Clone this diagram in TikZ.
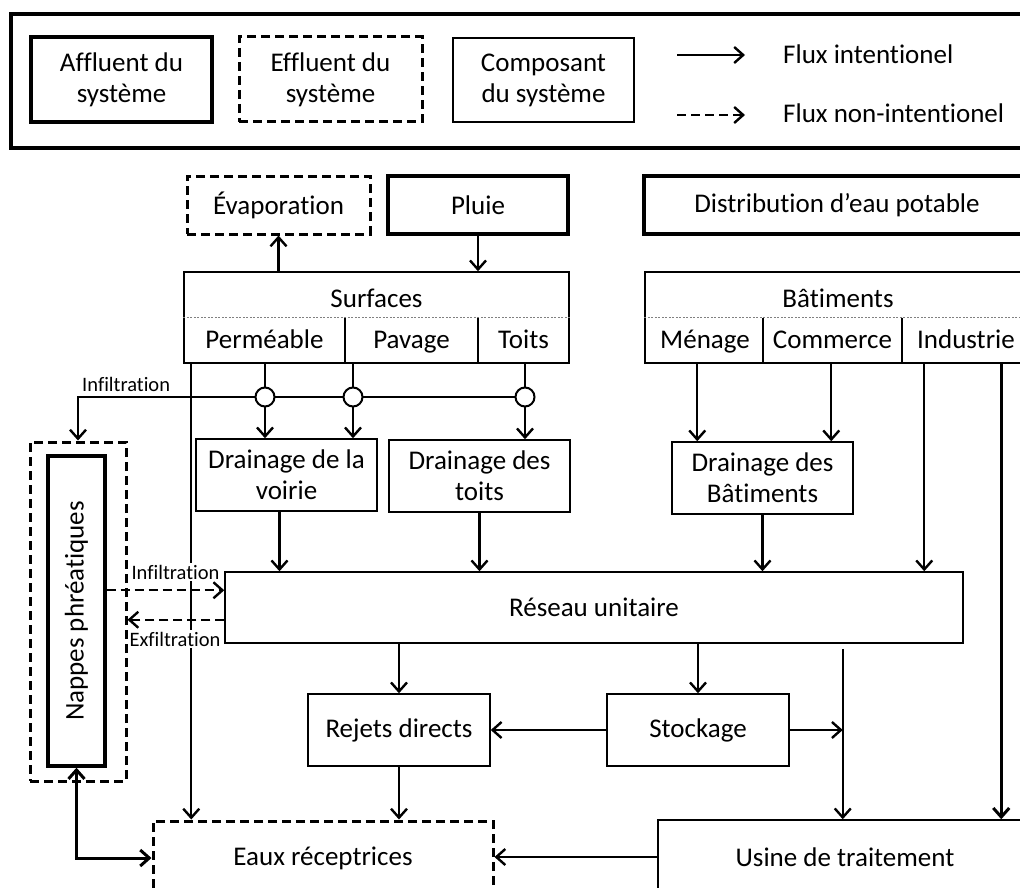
\documentclass[tikz,border=0pt]{standalone}
\usepackage{fontspec}
\setmainfont{Carlito}[Ligatures=NoCommon, RawFeature={-calt}]
\usetikzlibrary{arrows.meta,calc}

\newcommand{\grand}{\fontsize{27}{31}\selectfont}
\newcommand{\petit}{\fontsize{20.5}{22}\selectfont}

\begin{document}
\begin{tikzpicture}[x=1pt, y=-1pt,
    composant/.style={draw, line width=1.5pt, align=center, inner sep=0pt, font=\grand},
    affluent/.style={composant, line width=3.4pt},
    effluent/.style={composant, line width=3pt, dash pattern=on 9pt off 5pt},
    texte/.style={font=\grand, inner sep=0pt},
    flux/.style={line width=2.4pt, -{Straight Barb[length=9pt, width=16pt]}},
    fuite/.style={flux, dash pattern=on 9pt off 5pt},
    etiquette/.style={font=\petit, fill=white, inner sep=2pt},
    jonction/.style={circle, draw, fill=white, line width=2pt, minimum size=19pt, inner sep=0pt}]

        \clip (0,0) rectangle (1020,888);

        % Legende
        \draw[line width=3.5pt] (11,14) rectangle (1040,148);
        \node[affluent, minimum width=181pt, minimum height=85pt] (affl) at (121.5,79.5) {Affluent du\\système};
        \node[effluent, minimum width=183pt, minimum height=85pt] (effl) at (330.5,79.5) {Effluent du\\système};
        \node[composant, minimum width=181pt, minimum height=84pt] (comp) at (543.5,80) {Composant\\du système};
        \coordinate (fa) at (677,55);
        \coordinate (fb) at (677,115);
        \draw[flux] (fa) -- ++(68,0);
        \draw[fuite] (fb) -- ++(68,0);
        \node[texte, anchor=base west] (fint) at (783,64) {Flux intentionel};
        \node[texte, anchor=base west] (fnint) at (783,123) {Flux non-intentionel};

        % Entrees
        \node[effluent, minimum width=183pt, minimum height=58pt] (evap) at (278.5,205) {Évaporation};
        \node[affluent, minimum width=180pt, minimum height=58pt] (pluie) at (478,205) {Pluie};
        \node[affluent, minimum width=386pt, minimum height=58pt] (eaupot) at (837,205) {Distribution d’eau potable};

        % Surfaces
        \node[composant, minimum width=385pt, minimum height=91pt] (surf) at (376.5,317.5) {};
        \draw[line width=0.8pt, gray, dash pattern=on 2pt off 1.5pt] (surf.west) -- (surf.east);
        \draw[line width=1.2pt] (345,317.5) -- (345,363);
        \draw[line width=1.2pt] (478,317.5) -- (478,363);
        \node[texte, anchor=base] (surft) at (376.5,307) {Surfaces};
        \node[texte, anchor=base] (perm) at (264.5,348) {Perméable};
        \node[texte, anchor=base] (pav) at (411.5,348) {Pavage};
        \node[texte, anchor=base] (toits) at (523.5,348) {Toits};

        % Batiments
        \node[composant, minimum width=385pt, minimum height=91pt] (bat) at (837.5,317.5) {};
        \draw[line width=0.8pt, gray, dash pattern=on 2pt off 1.5pt] (bat.west) -- (bat.east);
        \draw[line width=1.2pt] (763,317.5) -- (763,363);
        \draw[line width=1.2pt] (902,317.5) -- (902,363);
        \node[texte, anchor=base] (batt) at (838,307) {Bâtiments};
        \node[texte, anchor=base] (menage) at (705,348) {Ménage};
        \node[texte, anchor=base] (commerce) at (832.5,348) {Commerce};
        \node[texte, anchor=base] (industrie) at (966,348) {Industrie};

        % Drainage
        \node[composant, minimum width=181pt, minimum height=72pt] (voirie) at (286.5,475) {Drainage de la\\voirie};
        \node[composant, minimum width=181pt, minimum height=72pt] (dtoits) at (479.5,476) {Drainage des\\toits};
        \node[composant, minimum width=181pt, minimum height=72pt] (dbat) at (762.5,478) {Drainage des\\Bâtiments};

        % Reseau et nappes
        \node[composant, minimum width=738pt, minimum height=71pt] (reseau) at (594,607.5) {Réseau unitaire};
        \node[effluent, minimum width=96pt, minimum height=339pt] (nappesext) at (78,611.5) {};
        \node[affluent, minimum width=57pt, minimum height=310pt] (nappes) at (76.5,611) {};
        \node[texte, rotate=90] (nappest) at (nappes.center) {Nappes phréatiques};

        % Sorties
        \node[composant, minimum width=182pt, minimum height=72pt] (rejets) at (399,730) {Rejets directs};
        \node[composant, minimum width=182pt, minimum height=72pt] (stockage) at (698,730) {Stockage};
        \node[effluent, minimum width=340pt, minimum height=74pt] (eaux) at (323,858) {Eaux réceptrices};
        \node[composant, minimum width=374pt, minimum height=74pt] (usine) at (845,857) {Usine de traitement};

        % Points de sortie
        \coordinate (perte) at ($(surf.south west)+(8,0)$);
        \coordinate (j1) at (265,397);
        \coordinate (j2) at (353,397);
        \coordinate (j3) at (525,397);
        \coordinate (s1) at ($(bat.south west)+(53,0)$);
        \coordinate (s2) at ($(bat.south west)+(187,0)$);
        \coordinate (s3) at ($(bat.south west)+(280,0)$);
        \coordinate (s4) at ($(bat.south west)+(357,0)$);
        \coordinate (s5) at ($(reseau.south east)+(-121,5)$);
        \coordinate (v1) at ($(voirie.south)+(-7,0)$);
        \coordinate (i1) at ($(reseau.north west)+(0,19)$);
        \coordinate (e1) at ($(reseau.south west)+(0,-24)$);

        % Pluie et evaporation
        \draw[flux] (evap.south |- surf.north) -- (evap.south);
        \draw[flux] (pluie.south) -- (pluie.south |- surf.north);

        % Ruissellement
        \draw[flux] (perte) -- (perte |- eaux.north);
        \draw[flux] (j3) -- (j3 -| nappesext) -- (nappesext.north);
        \node[font=\petit, inner sep=0pt, anchor=base west] (linf0) at (82,391) {Infiltration};
        \draw[line width=2.4pt] (j1 |- surf.south) -- (j1);
        \draw[line width=2.4pt] (j2 |- surf.south) -- (j2);
        \draw[line width=2.4pt] (j3 |- surf.south) -- (j3);
        \draw[flux] (j1) -- (j1 |- voirie.north);
        \draw[flux] (j2) -- (j2 |- voirie.north);
        \draw[flux] (j3) -- (j3 |- dtoits.north);
        \foreach \j in {j1,j2,j3}
            \node[jonction] at (\j) {};

        % Eaux usees
        \draw[flux] (s1) -- (s1 |- dbat.north);
        \draw[flux] (s2) -- (s2 |- dbat.north);
        \draw[flux] (s3) -- (s3 |- reseau.north);
        \draw[flux, line width=3pt] (s4) -- (s4 |- usine.north);

        % Vers le reseau
        \draw[flux] (v1) -- (v1 |- reseau.north);
        \draw[flux] (dtoits.south) -- (dtoits.south |- reseau.north);
        \draw[flux] (dbat.south) -- (dbat.south |- reseau.north);

        % Echanges avec les nappes
        \node[etiquette] (linf) at (175.5,572) {Infiltration};
        \node[etiquette] (lexf) at (175,639) {Exfiltration};
        \draw[fuite] (i1 -| nappes.east) -- (i1);
        \draw[fuite] (e1) -- (e1 -| nappesext.east);

        % Depuis le reseau
        \draw[flux] (rejets.north |- reseau.south) -- (rejets.north);
        \draw[flux] (stockage.north |- reseau.south) -- (stockage.north);
        \draw[flux] (s5) -- (s5 |- usine.north);
        \draw[flux] (stockage.west) -- (rejets.east);
        \draw[flux] (stockage.east) -- (stockage.east -| s5);
        \draw[flux] (rejets.south) -- (rejets.south |- eaux.north);
        \draw[flux] (usine.west) -- (usine.west -| eaux.east);
        \draw[line width=3pt, {Straight Barb[length=9pt, width=16pt]}-{Straight Barb[length=9pt, width=16pt]}] (nappes.south) |- (eaux.west);

\end{tikzpicture}
\end{document}
